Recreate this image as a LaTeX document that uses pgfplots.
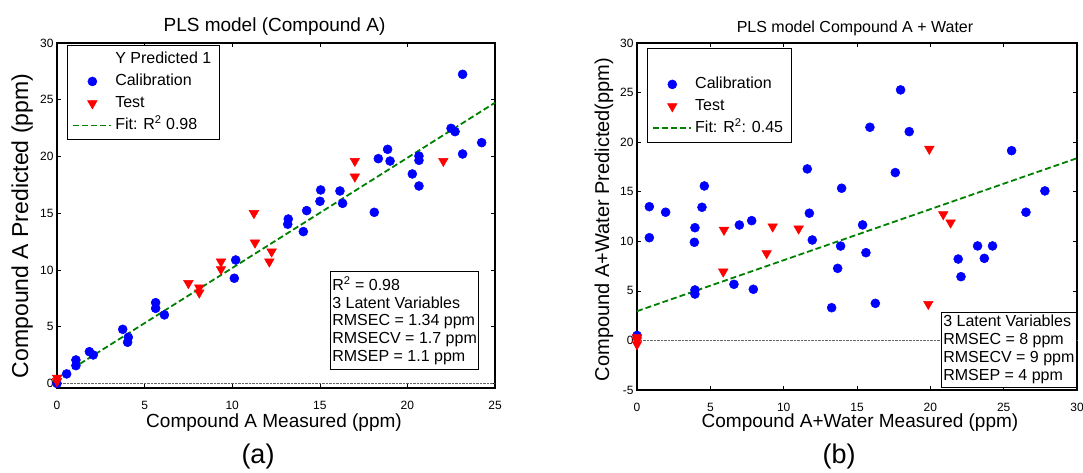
\documentclass[border=0pt]{standalone}
\usepackage{fontspec}
\setmainfont{Liberation Sans}
\usepackage{pgfplots}
\pgfplotsset{compat=1.18}

\definecolor{mblue}{rgb}{0,0,1}
\definecolor{mred}{rgb}{1,0,0}
\definecolor{mgreen}{rgb}{0,0.5,0}

\pgfplotsset{
  matlab/.style={
    scale only axis,
    clip=false,
    axis line style={line width=1.1pt},
    tick align=inside,
    major tick length=4pt,
    tick style={black, line width=0.6pt},
    /pgf/number format/assume math mode=true,
    ticklabel style={font=\fontsize{12}{14}\selectfont},
    xticklabel style={yshift=-10pt},
    extra y ticks={0},
    extra y tick labels={},
    extra y tick style={grid=major, major tick length=0pt,
      major grid style={color=black!60, densely dotted, line width=0.6pt}},
    legend cell align=left,
    legend style={font=\fontsize{16}{21}\selectfont, draw=black, line width=0.8pt,
      anchor=north west, inner xsep=5pt, inner ysep=3pt,
      nodes={inner xsep=3pt, inner ysep=0pt, text height=15pt, text depth=7pt},
      row sep=0pt, column sep=0pt},
  },
  limg/.style={legend image code/.code={\draw[mark repeat=2,mark phase=2,##1] plot coordinates {(0pt,0pt)(19pt,0pt)(38pt,0pt)};}},
  limgline/.style={legend image code/.code={\draw[draw=mgreen, line width=1.8pt, dash pattern=on 6pt off 3pt] (0pt,0pt) -- (38pt,0pt);}},
  calib/.style={only marks, mark=*, mark size=4.5pt, color=mblue, mark options={fill=mblue, draw=mblue, line width=0.5pt}},
  test/.style={only marks, mark=triangle*, mark size=5.5pt, color=mred, mark options={rotate=180, fill=mred, draw=mred, line width=0.5pt}},
  fitline/.style={color=mgreen, line width=1.8pt, dash pattern=on 6pt off 3pt},
}

\begin{document}
\begin{tikzpicture}
% ---------- panel (a) ----------
\begin{axis}[matlab,
  at={(57pt,85pt)}, anchor=south west,
  width=438pt, height=345pt,
  xmin=0, xmax=25, ymin=-0.4, ymax=30,
  xtick={0,5,...,25}, ytick={0,5,...,30},
  legend style={at={(0.023,0.994)}},
]
\addlegendimage{empty legend}
\addlegendentry{Y Predicted 1}
\addlegendimage{calib, limg}
\addlegendentry{Calibration}
\addlegendimage{test, limg}
\addlegendentry{Test}
\addlegendimage{fitline, limgline}
\addlegendentry{Fit: R\textsuperscript{2} 0.98}
\addplot[calib, forget plot] coordinates {
(0,0) (0.55,0.84) (1.08,2.07) (1.08,1.57) (1.85,2.8) (2.07,2.51)
(3.75,4.77) (4.07,4.07) (4.03,3.63) (5.63,7.12) (5.63,6.62) (6.13,6.04)
(10.2,10.88) (10.12,9.27) (13.2,14.49) (13.17,14.03) (14.06,13.38) (14.25,15.23)
(15.05,17.05) (15.01,16.05) (16.15,16.96) (16.3,15.87) (18.11,15.08) (18.34,19.81)
(18.87,20.63) (19.01,19.6) (20.28,18.46) (20.66,20.04) (20.66,19.66) (20.66,17.4)
(22.49,22.48) (22.72,22.19) (23.15,27.24) (23.15,20.22) (24.24,21.22)
};
\addplot[test, forget plot] coordinates {
(0,0.2) (0,0.5) (7.5,8.83) (8.12,8.44) (8.12,8.0) (9.36,10.73) (9.36,10.06)
(11.24,15.0) (11.3,12.4) (12.25,11.61) (12.12,10.73) (17.0,19.6) (17.0,18.22) (22.05,19.6)
};
\addplot[fitline, forget plot] coordinates {(0,0.46) (25,24.74)};
\node[draw=black, line width=0.8pt, fill=white, anchor=north west, inner xsep=2pt, inner ysep=5pt,
  align=left, font=\fontsize{16}{17.7}\selectfont]
  at (axis cs:15.58,9.91)
  {R\textsuperscript{2} = 0.98\\3 Latent Variables\\RMSEC = 1.34 ppm\\RMSECV = 1.7 ppm\\RMSEP = 1.1 ppm};
\end{axis}

% ---------- panel (b) ----------
\begin{axis}[matlab,
  at={(637pt,83pt)}, anchor=south west,
  width=440pt, height=347pt,
  xmin=0, xmax=30, ymin=-5, ymax=30,
  xtick={0,5,...,30}, ytick={-5,0,...,30},
  legend style={at={(0.0227,0.9856)}},
]
\addlegendimage{empty legend}
\addlegendentry{\strut}
\addlegendimage{calib, limg}
\addlegendentry{Calibration}
\addlegendimage{test, limg}
\addlegendentry{Test}
\addlegendimage{fitline, limgline}
\addlegendentry{Fit: R\textsuperscript{2}: 0.45}
\addplot[calib, forget plot] coordinates {
(0,0.5) (0.84,13.49) (0.84,10.36) (1.95,12.93) (3.95,11.37) (3.91,9.9) (3.95,5.09)
(3.95,4.68) (4.43,13.43) (4.59,15.58) (6.61,5.66) (6.98,11.64) (7.82,12.08) (7.93,5.16)
(11.61,17.3) (11.75,12.83) (11.95,10.13) (13.27,3.3) (13.68,7.27) (13.88,9.52) (13.95,15.35)
(15.38,11.65) (15.61,8.85) (15.88,21.5) (16.25,3.74) (17.61,16.93) (17.97,25.27) (18.56,21.06)
(21.9,8.21) (22.09,6.43) (23.22,9.53) (23.68,8.28) (24.24,9.53) (25.54,19.14) (26.52,12.93)
(27.81,15.08)
};
\addplot[test, forget plot] coordinates {
(0,0.3) (0,0) (0,-0.4) (5.88,6.93) (5.93,11.14) (8.84,8.79) (9.25,11.48) (11.02,11.27)
(19.86,3.67) (19.93,19.31) (20.88,12.72) (21.38,11.88)
};
\addplot[fitline, forget plot] coordinates {(0,2.95) (30,18.38)};
\node[draw=black, line width=0.8pt, fill=white, anchor=north west, inner xsep=2pt, inner ysep=3pt,
  align=left, font=\fontsize{16}{18}\selectfont]
  at (axis cs:20.72,2.87)
  {3 Latent Variables\\RMSEC = 8 ppm\\RMSECV = 9 ppm\\RMSEP = 4 ppm};
\end{axis}

% ---------- titles and labels ----------
\node[anchor=base, font=\fontsize{19}{22}\selectfont] at (274.5pt,441pt) {PLS model (Compound A)};
\node[anchor=base, font=\fontsize{16}{19}\selectfont] at (855pt,440pt) {PLS model Compound A + Water};
\node[anchor=base, font=\fontsize{19}{22}\selectfont] at (274pt,45pt) {Compound A Measured (ppm)};
\node[anchor=base, font=\fontsize{19}{22}\selectfont] at (860pt,45pt) {Compound A+Water Measured (ppm)};
\node[anchor=base, rotate=90, font=\fontsize{23}{26}\selectfont] at (28pt,247pt) {Compound A Predicted (ppm)};
\node[anchor=base, rotate=90, font=\fontsize{20}{23}\selectfont] at (609pt,253.5pt) {Compound A+Water Predicted(ppm)};
\node[anchor=base, font=\fontsize{27}{30}\selectfont] at (258pt,9pt) {(a)};
\node[anchor=base, font=\fontsize{27}{30}\selectfont] at (839pt,9pt) {(b)};

\pgfresetboundingbox
\useasboundingbox (0pt,0pt) rectangle (1083pt,473pt);
\end{tikzpicture}
\end{document}
